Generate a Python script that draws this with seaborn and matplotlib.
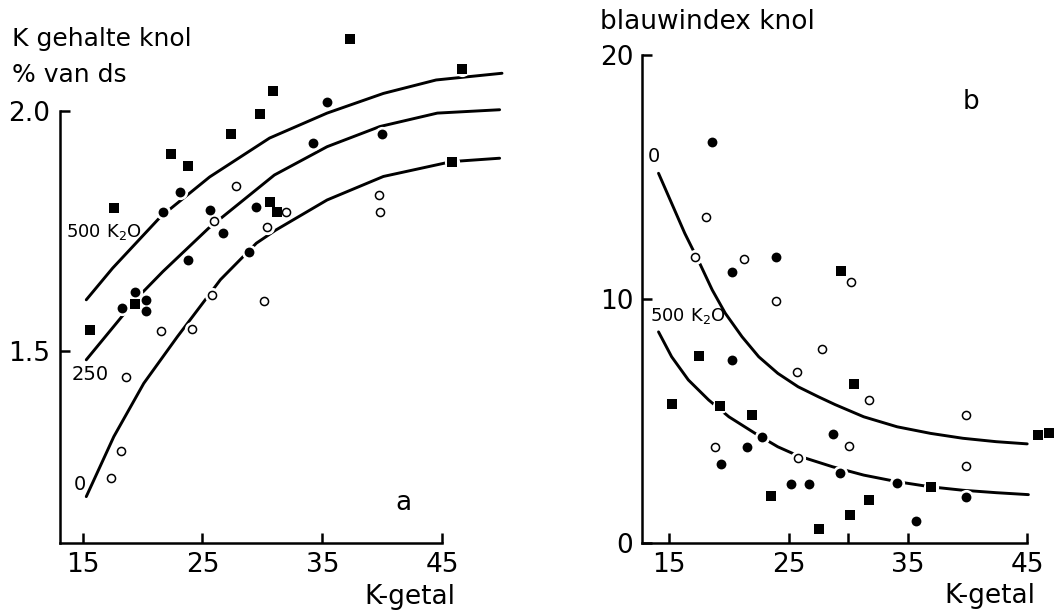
import matplotlib
matplotlib.use("Agg")
import matplotlib.pyplot as plt
import seaborn as sns
import pandas as pd

# ---------------- Panel a: K gehalte knol vs K-getal ----------------
a_sq_x = [15.6, 17.6, 19.4, 22.4, 23.8, 27.4, 29.8, 30.6, 31.2, 30.9, 37.3, 45.8, 46.7]
a_sq_y = [1.543, 1.798, 1.597, 1.909, 1.885, 1.951, 1.993, 1.810, 1.788, 2.041, 2.149, 1.894, 2.087]
a_fc_x = [18.3, 19.4, 20.3, 20.3, 21.7, 23.1, 23.8, 25.6, 26.7, 28.9, 29.5, 34.25, 35.4, 40.0]
a_fc_y = [1.590, 1.623, 1.606, 1.583, 1.790, 1.831, 1.688, 1.793, 1.745, 1.706, 1.800, 1.932, 2.018, 1.951]
a_oc_x = [17.4, 18.2, 18.6, 21.5, 24.1, 25.8, 26.0, 27.8, 30.1, 30.4, 32.0, 39.7, 39.8]
a_oc_y = [1.235, 1.292, 1.445, 1.541, 1.545, 1.616, 1.770, 1.843, 1.604, 1.758, 1.788, 1.824, 1.790]

a_c500_x = [15.3, 17.5, 21.5, 25.6, 30.6, 35.4, 40.1, 44.5, 50.0]
a_c500_y = [1.606, 1.672, 1.779, 1.862, 1.943, 1.995, 2.036, 2.064, 2.078]
a_c250_x = [15.3, 18.3, 19.9, 21.7, 25.5, 31.0, 35.4, 39.8, 44.6, 49.8]
a_c250_y = [1.481, 1.572, 1.619, 1.665, 1.755, 1.866, 1.925, 1.967, 1.995, 2.002]
a_c0_x = [15.3, 17.6, 20.1, 22.9, 26.5, 29.5, 31.1, 35.4, 40.1, 45.8, 49.8]
a_c0_y = [1.196, 1.321, 1.432, 1.529, 1.648, 1.724, 1.751, 1.814, 1.863, 1.894, 1.901]

a_xticks = [15, 25, 35, 45]
a_yticks = [1.5, 2.0]
a_yticklabels = ["1.5", "2.0"]

# ---------------- Panel b: blauwindex knol vs K-getal ----------------
b_sq_x = [15.25, 17.49, 19.25, 21.96, 23.52, 27.55, 29.39, 30.15, 30.48, 31.74, 36.94, 45.93, 46.85]
b_sq_y = [5.67, 7.66, 5.60, 5.23, 1.90, 0.56, 11.15, 1.12, 6.49, 1.75, 2.30, 4.41, 4.51]
b_fc_x = [18.6, 19.31, 20.26, 20.28, 21.54, 22.8, 23.92, 25.23, 26.68, 28.75, 29.33, 34.11, 35.68, 39.87]
b_fc_y = [16.43, 3.21, 11.11, 7.49, 3.91, 4.34, 11.71, 2.41, 2.41, 4.44, 2.84, 2.43, 0.89, 1.89]
b_oc_x = [17.18, 18.08, 18.83, 21.24, 23.94, 25.70, 25.81, 27.77, 30.1, 30.2, 31.76, 39.87, 39.87]
b_oc_y = [11.70, 13.34, 3.91, 11.61, 9.91, 6.98, 3.48, 7.94, 3.96, 10.70, 5.85, 5.25, 3.14]

b_c0_x = [14.1, 15.2, 16.3, 17.6, 18.6, 19.7, 21.1, 22.5, 24.1, 25.8, 27.5, 28.9,
          31.3, 34.1, 36.9, 39.6, 42.4, 45.0]
b_c0_y = [15.14, 13.91, 12.68, 11.40, 10.36, 9.40, 8.44, 7.62, 6.94, 6.39, 5.98, 5.66,
          5.16, 4.75, 4.48, 4.28, 4.14, 4.05]
b_c500_x = [14.1, 15.2, 16.6, 18.3, 20.0, 22.2, 24.1, 25.8, 28.7, 31.3, 34.1, 36.9,
            39.6, 42.4, 45.1]
b_c500_y = [8.64, 7.62, 6.67, 5.85, 5.16, 4.48, 3.93, 3.56, 3.11, 2.77, 2.50, 2.29,
            2.15, 2.05, 1.97]

b_xticks = [15, 25, 30, 35, 45]
b_xticklabels = ["15", "25", "", "35", "45"]
b_yticks = [0, 10, 20]
b_yticklabels = ["0", "10", "20"]

sns.set_theme(style="white")
plt.rcParams["font.family"] = ["DejaVu Sans"]
plt.rcParams["mathtext.fontset"] = "dejavusans"

W, H = 1064, 613
fig = plt.figure(figsize=(W / 100, H / 100), dpi=100)


def box(x0, x1, y_top, y_bot):
    return [x0 / W, 1 - y_bot / H, (x1 - x0) / W, (y_bot - y_top) / H]


ax1 = fig.add_axes(box(59.9, 514, 14.7, 542.7))
ax2 = fig.add_axes(box(641.7, 1063, 5.9, 542.7))


def draw(ax, curves, sq, fc, oc):
    for cx, cy in curves:
        sns.lineplot(x=cx, y=cy, ax=ax, color="black", lw=2.1, sort=False,
                     estimator=None, zorder=2)
    allx = sq[0] + fc[0] + oc[0]
    ally = sq[1] + fc[1] + oc[1]
    # white halo that breaks the curves around the marks
    sns.scatterplot(x=allx, y=ally, ax=ax, color="white", s=120, marker="o",
                    linewidth=0, zorder=3, clip_on=False)
    sns.scatterplot(x=sq[0], y=sq[1], ax=ax, color="black", marker="s", s=58,
                    linewidth=0, zorder=4, clip_on=False)
    sns.scatterplot(x=fc[0], y=fc[1], ax=ax, color="black", marker="o", s=50,
                    linewidth=0, zorder=4, clip_on=False)
    sns.scatterplot(x=oc[0], y=oc[1], ax=ax, facecolor="white", edgecolor="black",
                    marker="o", s=34, linewidth=1.1, zorder=4, clip_on=False)
    for s in ["top", "right"]:
        ax.spines[s].set_visible(False)
    for s in ["left", "bottom"]:
        ax.spines[s].set_color("black")
        ax.spines[s].set_linewidth(1.8)
    ax.tick_params(bottom=True, left=True, top=False, right=False,
                   direction="in", length=7, width=1.8, colors="black",
                   labelsize=19)
    ax.set_xlabel("")
    ax.set_ylabel("")
    ax.grid(False)
    ax.patch.set_alpha(0)


draw(ax1, [(a_c500_x, a_c500_y), (a_c250_x, a_c250_y), (a_c0_x, a_c0_y)],
     (a_sq_x, a_sq_y), (a_fc_x, a_fc_y), (a_oc_x, a_oc_y))
ax1.set_xlim(13.1, 51)
ax1.set_ylim(1.1, 2.2)
ax1.spines["left"].set_bounds(1.1, 2.0)
ax1.spines["bottom"].set_bounds(13.1, 45)
ax1.set_xticks(a_xticks)
ax1.set_xticklabels([str(t) for t in a_xticks])
ax1.set_yticks(a_yticks)
ax1.set_yticklabels(a_yticklabels)
ax1.tick_params(axis="x", pad=7)
ax1.tick_params(axis="y", pad=7)

draw(ax2, [(b_c0_x, b_c0_y), (b_c500_x, b_c500_y)],
     (b_sq_x, b_sq_y), (b_fc_x, b_fc_y), (b_oc_x, b_oc_y))
ax2.set_xlim(12.69, 48)
ax2.set_ylim(0, 22)
ax2.spines["left"].set_bounds(0, 20)
ax2.spines["bottom"].set_bounds(12.69, 45)
ax2.set_xticks(b_xticks)
ax2.set_xticklabels(b_xticklabels)
ax2.set_yticks(b_yticks)
ax2.set_yticklabels(b_yticklabels)
ax2.tick_params(axis="x", pad=7)
ax2.tick_params(axis="y", pad=6)


def ftext(x, y, s, size, ha="left"):
    fig.text(x / W, 1 - y / H, s, fontsize=size, ha=ha, va="center", color="black")


# panel a texts
ftext(12, 39, "K gehalte knol", 18)
ftext(12, 75, "% van ds", 18)
ftext(66, 232, "500 K$_2$O", 13)
ftext(72, 374, "250", 14)
ftext(80, 485, "0", 14, ha="center")
ftext(403, 503, "a", 19, ha="center")
ftext(410, 597, "K-getal", 19, ha="center")

# panel b texts
ftext(600, 22, "blauwindex knol", 19)
ftext(654, 156, "0", 14, ha="center")
ftext(650, 316, "500 K$_2$O", 13)
ftext(971, 102, "b", 19, ha="center")
ftext(990, 596, "K-getal", 19, ha="center")

fig.savefig("out.png", dpi=100)
